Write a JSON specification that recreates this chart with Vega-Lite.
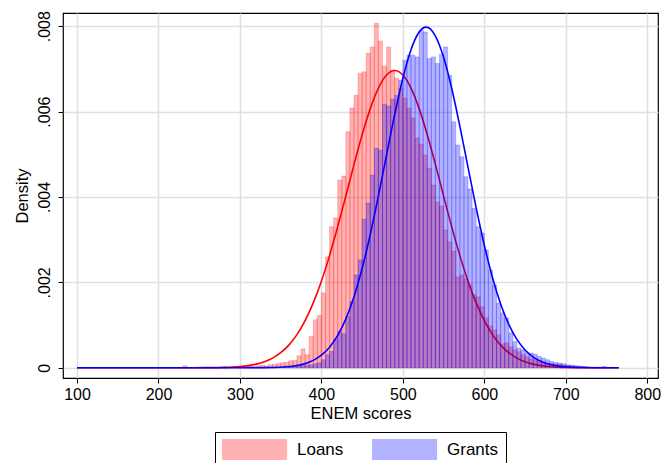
{
  "$schema": "https://vega.github.io/schema/vega-lite/v6.json",
  "autosize": {"type": "none"},
  "padding": {"left": 63, "top": 13, "right": 5, "bottom": 85},
  "width": 595,
  "height": 365,
  "background": "white",
  "config": {
    "view": {"stroke": "#000", "strokeWidth": 1.2},
    "font": "Liberation Sans"
  },
  "datasets": {
    "hist": [
      {"g":"Loans","x0":230,"x1":235,"d":0.0000468},
      {"g":"Loans","x0":280,"x1":285,"d":0.0000234},
      {"g":"Loans","x0":300,"x1":305,"d":0.0000234},
      {"g":"Loans","x0":305,"x1":310,"d":0.0000234},
      {"g":"Loans","x0":310,"x1":315,"d":0.0000351},
      {"g":"Loans","x0":315,"x1":320,"d":0.0000234},
      {"g":"Loans","x0":320,"x1":325,"d":0.0000468},
      {"g":"Loans","x0":325,"x1":330,"d":0.0000585},
      {"g":"Loans","x0":330,"x1":335,"d":0.0000468},
      {"g":"Loans","x0":335,"x1":340,"d":0.0000702},
      {"g":"Loans","x0":340,"x1":345,"d":0.0000819},
      {"g":"Loans","x0":345,"x1":350,"d":0.0000936},
      {"g":"Loans","x0":350,"x1":355,"d":0.000117},
      {"g":"Loans","x0":355,"x1":360,"d":0.000129},
      {"g":"Loans","x0":360,"x1":365,"d":0.000164},
      {"g":"Loans","x0":365,"x1":370,"d":0.000171},
      {"g":"Loans","x0":370,"x1":375,"d":0.000281},
      {"g":"Loans","x0":375,"x1":380,"d":0.000444},
      {"g":"Loans","x0":380,"x1":385,"d":0.000304},
      {"g":"Loans","x0":385,"x1":390,"d":0.000732},
      {"g":"Loans","x0":390,"x1":395,"d":0.001123},
      {"g":"Loans","x0":395,"x1":400,"d":0.001223},
      {"g":"Loans","x0":400,"x1":405,"d":0.001754},
      {"g":"Loans","x0":405,"x1":410,"d":0.002597},
      {"g":"Loans","x0":410,"x1":415,"d":0.003305},
      {"g":"Loans","x0":415,"x1":420,"d":0.003509},
      {"g":"Loans","x0":420,"x1":425,"d":0.004398},
      {"g":"Loans","x0":425,"x1":430,"d":0.004491},
      {"g":"Loans","x0":430,"x1":435,"d":0.005527},
      {"g":"Loans","x0":435,"x1":440,"d":0.006082},
      {"g":"Loans","x0":440,"x1":445,"d":0.006386},
      {"g":"Loans","x0":445,"x1":450,"d":0.006901},
      {"g":"Loans","x0":450,"x1":455,"d":0.006931},
      {"g":"Loans","x0":455,"x1":460,"d":0.007368},
      {"g":"Loans","x0":460,"x1":465,"d":0.007516},
      {"g":"Loans","x0":465,"x1":470,"d":0.008070},
      {"g":"Loans","x0":470,"x1":475,"d":0.007656},
      {"g":"Loans","x0":475,"x1":480,"d":0.007064},
      {"g":"Loans","x0":480,"x1":485,"d":0.007516},
      {"g":"Loans","x0":485,"x1":490,"d":0.006971},
      {"g":"Loans","x0":490,"x1":495,"d":0.006784},
      {"g":"Loans","x0":495,"x1":500,"d":0.006550},
      {"g":"Loans","x0":500,"x1":505,"d":0.006316},
      {"g":"Loans","x0":505,"x1":510,"d":0.006082},
      {"g":"Loans","x0":510,"x1":515,"d":0.005848},
      {"g":"Loans","x0":515,"x1":520,"d":0.005380},
      {"g":"Loans","x0":520,"x1":525,"d":0.005240},
      {"g":"Loans","x0":525,"x1":530,"d":0.004982},
      {"g":"Loans","x0":530,"x1":535,"d":0.004678},
      {"g":"Loans","x0":535,"x1":540,"d":0.004281},
      {"g":"Loans","x0":540,"x1":545,"d":0.003883},
      {"g":"Loans","x0":545,"x1":550,"d":0.003790},
      {"g":"Loans","x0":550,"x1":555,"d":0.003228},
      {"g":"Loans","x0":555,"x1":560,"d":0.002947},
      {"g":"Loans","x0":560,"x1":565,"d":0.002737},
      {"g":"Loans","x0":565,"x1":570,"d":0.002129},
      {"g":"Loans","x0":570,"x1":575,"d":0.002175},
      {"g":"Loans","x0":575,"x1":580,"d":0.002082},
      {"g":"Loans","x0":580,"x1":585,"d":0.001942},
      {"g":"Loans","x0":585,"x1":590,"d":0.001708},
      {"g":"Loans","x0":590,"x1":595,"d":0.001661},
      {"g":"Loans","x0":595,"x1":600,"d":0.001427},
      {"g":"Loans","x0":600,"x1":605,"d":0.001170},
      {"g":"Loans","x0":605,"x1":610,"d":0.000982},
      {"g":"Loans","x0":610,"x1":615,"d":0.000889},
      {"g":"Loans","x0":615,"x1":620,"d":0.000772},
      {"g":"Loans","x0":620,"x1":625,"d":0.000561},
      {"g":"Loans","x0":625,"x1":630,"d":0.000585},
      {"g":"Loans","x0":630,"x1":635,"d":0.000491},
      {"g":"Loans","x0":635,"x1":640,"d":0.000421},
      {"g":"Loans","x0":640,"x1":645,"d":0.000374},
      {"g":"Loans","x0":645,"x1":650,"d":0.000304},
      {"g":"Loans","x0":650,"x1":655,"d":0.000257},
      {"g":"Loans","x0":655,"x1":660,"d":0.000211},
      {"g":"Loans","x0":660,"x1":665,"d":0.000187},
      {"g":"Loans","x0":665,"x1":670,"d":0.000152},
      {"g":"Loans","x0":670,"x1":675,"d":0.000129},
      {"g":"Loans","x0":675,"x1":680,"d":0.000105},
      {"g":"Loans","x0":680,"x1":685,"d":0.0000936},
      {"g":"Loans","x0":685,"x1":690,"d":0.0000819},
      {"g":"Loans","x0":690,"x1":695,"d":0.0000819},
      {"g":"Loans","x0":695,"x1":700,"d":0.0000585},
      {"g":"Loans","x0":700,"x1":705,"d":0.0000468},
      {"g":"Loans","x0":705,"x1":710,"d":0.0000468},
      {"g":"Loans","x0":710,"x1":715,"d":0.0000351},
      {"g":"Loans","x0":715,"x1":720,"d":0.0000234},
      {"g":"Loans","x0":720,"x1":725,"d":0.0000234},
      {"g":"Loans","x0":725,"x1":730,"d":0.0000117},
      {"g":"Loans","x0":735,"x1":740,"d":0.0000117},
      {"g":"Loans","x0":745,"x1":750,"d":0.0000351},
      {"g":"Loans","x0":755,"x1":760,"d":0.000007},
      {"g":"Grants","x0":340,"x1":345,"d":0.0000117},
      {"g":"Grants","x0":345,"x1":350,"d":0.0000117},
      {"g":"Grants","x0":350,"x1":355,"d":0.0000117},
      {"g":"Grants","x0":355,"x1":360,"d":0.0000234},
      {"g":"Grants","x0":360,"x1":365,"d":0.0000234},
      {"g":"Grants","x0":365,"x1":370,"d":0.0000351},
      {"g":"Grants","x0":370,"x1":375,"d":0.0000468},
      {"g":"Grants","x0":375,"x1":380,"d":0.0000468},
      {"g":"Grants","x0":380,"x1":385,"d":0.0000585},
      {"g":"Grants","x0":385,"x1":390,"d":0.0000702},
      {"g":"Grants","x0":390,"x1":395,"d":0.0000936},
      {"g":"Grants","x0":395,"x1":400,"d":0.000117},
      {"g":"Grants","x0":400,"x1":405,"d":0.000187},
      {"g":"Grants","x0":405,"x1":410,"d":0.000304},
      {"g":"Grants","x0":410,"x1":415,"d":0.000381},
      {"g":"Grants","x0":415,"x1":420,"d":0.000671},
      {"g":"Grants","x0":420,"x1":425,"d":0.000849},
      {"g":"Grants","x0":425,"x1":430,"d":0.000795},
      {"g":"Grants","x0":430,"x1":435,"d":0.001200},
      {"g":"Grants","x0":435,"x1":440,"d":0.001551},
      {"g":"Grants","x0":440,"x1":445,"d":0.002175},
      {"g":"Grants","x0":445,"x1":450,"d":0.002526},
      {"g":"Grants","x0":450,"x1":455,"d":0.003478},
      {"g":"Grants","x0":455,"x1":460,"d":0.003860},
      {"g":"Grants","x0":460,"x1":465,"d":0.004515},
      {"g":"Grants","x0":465,"x1":470,"d":0.005146},
      {"g":"Grants","x0":470,"x1":475,"d":0.005099},
      {"g":"Grants","x0":475,"x1":480,"d":0.006175},
      {"g":"Grants","x0":480,"x1":485,"d":0.006129},
      {"g":"Grants","x0":485,"x1":490,"d":0.006292},
      {"g":"Grants","x0":490,"x1":495,"d":0.006386},
      {"g":"Grants","x0":495,"x1":500,"d":0.006737},
      {"g":"Grants","x0":500,"x1":505,"d":0.007205},
      {"g":"Grants","x0":505,"x1":510,"d":0.007322},
      {"g":"Grants","x0":510,"x1":515,"d":0.007322},
      {"g":"Grants","x0":515,"x1":520,"d":0.007282},
      {"g":"Grants","x0":520,"x1":525,"d":0.007906},
      {"g":"Grants","x0":525,"x1":530,"d":0.007867},
      {"g":"Grants","x0":530,"x1":535,"d":0.007244},
      {"g":"Grants","x0":535,"x1":540,"d":0.007282},
      {"g":"Grants","x0":540,"x1":545,"d":0.007128},
      {"g":"Grants","x0":545,"x1":550,"d":0.007338},
      {"g":"Grants","x0":550,"x1":555,"d":0.007516},
      {"g":"Grants","x0":555,"x1":560,"d":0.006854},
      {"g":"Grants","x0":560,"x1":565,"d":0.005761},
      {"g":"Grants","x0":565,"x1":570,"d":0.005216},
      {"g":"Grants","x0":570,"x1":575,"d":0.004943},
      {"g":"Grants","x0":575,"x1":580,"d":0.004475},
      {"g":"Grants","x0":580,"x1":585,"d":0.004187},
      {"g":"Grants","x0":585,"x1":590,"d":0.003736},
      {"g":"Grants","x0":590,"x1":595,"d":0.003305},
      {"g":"Grants","x0":595,"x1":600,"d":0.003158},
      {"g":"Grants","x0":600,"x1":605,"d":0.002760},
      {"g":"Grants","x0":605,"x1":610,"d":0.002292},
      {"g":"Grants","x0":610,"x1":615,"d":0.001942},
      {"g":"Grants","x0":615,"x1":620,"d":0.001513},
      {"g":"Grants","x0":620,"x1":625,"d":0.001287},
      {"g":"Grants","x0":625,"x1":630,"d":0.001163},
      {"g":"Grants","x0":630,"x1":635,"d":0.000819},
      {"g":"Grants","x0":635,"x1":640,"d":0.000615},
      {"g":"Grants","x0":640,"x1":645,"d":0.000461},
      {"g":"Grants","x0":645,"x1":650,"d":0.000421},
      {"g":"Grants","x0":650,"x1":655,"d":0.000351},
      {"g":"Grants","x0":655,"x1":660,"d":0.000344},
      {"g":"Grants","x0":660,"x1":665,"d":0.000320},
      {"g":"Grants","x0":665,"x1":670,"d":0.000264},
      {"g":"Grants","x0":670,"x1":675,"d":0.000227},
      {"g":"Grants","x0":675,"x1":680,"d":0.000187},
      {"g":"Grants","x0":680,"x1":685,"d":0.000147},
      {"g":"Grants","x0":685,"x1":690,"d":0.000124},
      {"g":"Grants","x0":690,"x1":695,"d":0.000110},
      {"g":"Grants","x0":695,"x1":700,"d":0.0000936},
      {"g":"Grants","x0":700,"x1":705,"d":0.0000702},
      {"g":"Grants","x0":705,"x1":710,"d":0.0000585},
      {"g":"Grants","x0":710,"x1":715,"d":0.0000468},
      {"g":"Grants","x0":715,"x1":720,"d":0.0000351},
      {"g":"Grants","x0":720,"x1":725,"d":0.0000234},
      {"g":"Grants","x0":725,"x1":730,"d":0.0000164},
      {"g":"Grants","x0":730,"x1":735,"d":0.0000117},
      {"g":"Grants","x0":735,"x1":740,"d":0.0000117},
      {"g":"Grants","x0":740,"x1":745,"d":0.0000187},
      {"g":"Grants","x0":745,"x1":750,"d":0.0000117},
      {"g":"Grants","x0":750,"x1":755,"d":0.0000047},
      {"g":"Grants","x0":755,"x1":760,"d":0.0000117},
      {"g":"Grants","x0":760,"x1":765,"d":0.0000047}
    ],
    "curve": [
      {"g":"Loans","x":100,"d":0},
      {"g":"Loans","x":200,"d":0},
      {"g":"Loans","x":240,"d":0.0000003},
      {"g":"Loans","x":260,"d":0.0000022},
      {"g":"Loans","x":280,"d":0.0000084},
      {"g":"Loans","x":290,"d":0.0000157},
      {"g":"Loans","x":300,"d":0.0000285},
      {"g":"Loans","x":310,"d":0.0000501},
      {"g":"Loans","x":320,"d":0.0000854},
      {"g":"Loans","x":330,"d":0.0001411},
      {"g":"Loans","x":340,"d":0.0002263},
      {"g":"Loans","x":350,"d":0.0003519},
      {"g":"Loans","x":360,"d":0.0005308},
      {"g":"Loans","x":370,"d":0.0007768},
      {"g":"Loans","x":380,"d":0.0011027},
      {"g":"Loans","x":390,"d":0.001519},
      {"g":"Loans","x":400,"d":0.002028},
      {"g":"Loans","x":410,"d":0.002627},
      {"g":"Loans","x":420,"d":0.003301},
      {"g":"Loans","x":430,"d":0.004024},
      {"g":"Loans","x":440,"d":0.004758},
      {"g":"Loans","x":450,"d":0.005457},
      {"g":"Loans","x":460,"d":0.006070},
      {"g":"Loans","x":470,"d":0.006551},
      {"g":"Loans","x":480,"d":0.006857},
      {"g":"Loans","x":490,"d":0.006962},
      {"g":"Loans","x":500,"d":0.006857},
      {"g":"Loans","x":510,"d":0.006551},
      {"g":"Loans","x":520,"d":0.006070},
      {"g":"Loans","x":530,"d":0.005457},
      {"g":"Loans","x":540,"d":0.004758},
      {"g":"Loans","x":550,"d":0.004024},
      {"g":"Loans","x":560,"d":0.003301},
      {"g":"Loans","x":570,"d":0.002627},
      {"g":"Loans","x":580,"d":0.002028},
      {"g":"Loans","x":590,"d":0.001519},
      {"g":"Loans","x":600,"d":0.0011027},
      {"g":"Loans","x":610,"d":0.0007768},
      {"g":"Loans","x":620,"d":0.0005308},
      {"g":"Loans","x":630,"d":0.0003519},
      {"g":"Loans","x":640,"d":0.0002263},
      {"g":"Loans","x":650,"d":0.0001411},
      {"g":"Loans","x":660,"d":0.0000854},
      {"g":"Loans","x":670,"d":0.0000501},
      {"g":"Loans","x":680,"d":0.0000285},
      {"g":"Loans","x":690,"d":0.0000157},
      {"g":"Loans","x":700,"d":0.0000084},
      {"g":"Loans","x":720,"d":0.0000022},
      {"g":"Loans","x":740,"d":0.0000003},
      {"g":"Loans","x":765,"d":0},
      {"g":"Grants","x":100,"d":0},
      {"g":"Grants","x":250,"d":0},
      {"g":"Grants","x":300,"d":0.0000002},
      {"g":"Grants","x":330,"d":0.000003},
      {"g":"Grants","x":350,"d":0.0000136},
      {"g":"Grants","x":370,"d":0.0000524},
      {"g":"Grants","x":380,"d":0.0000969},
      {"g":"Grants","x":390,"d":0.0001721},
      {"g":"Grants","x":400,"d":0.0002936},
      {"g":"Grants","x":410,"d":0.0004812},
      {"g":"Grants","x":420,"d":0.0007575},
      {"g":"Grants","x":430,"d":0.001146},
      {"g":"Grants","x":440,"d":0.0016659},
      {"g":"Grants","x":450,"d":0.0023264},
      {"g":"Grants","x":460,"d":0.0031215},
      {"g":"Grants","x":470,"d":0.0040242},
      {"g":"Grants","x":480,"d":0.0049842},
      {"g":"Grants","x":490,"d":0.0059316},
      {"g":"Grants","x":500,"d":0.0067826},
      {"g":"Grants","x":510,"d":0.0074511},
      {"g":"Grants","x":520,"d":0.0078645},
      {"g":"Grants","x":528.5,"d":0.007979},
      {"g":"Grants","x":540,"d":0.0077707},
      {"g":"Grants","x":550,"d":0.0072745},
      {"g":"Grants","x":560,"d":0.0065428},
      {"g":"Grants","x":570,"d":0.0056539},
      {"g":"Grants","x":580,"d":0.0046944},
      {"g":"Grants","x":590,"d":0.0037448},
      {"g":"Grants","x":600,"d":0.00287},
      {"g":"Grants","x":610,"d":0.0021136},
      {"g":"Grants","x":620,"d":0.0014954},
      {"g":"Grants","x":630,"d":0.0010164},
      {"g":"Grants","x":640,"d":0.0006639},
      {"g":"Grants","x":650,"d":0.0004165},
      {"g":"Grants","x":660,"d":0.0002511},
      {"g":"Grants","x":670,"d":0.0001455},
      {"g":"Grants","x":680,"d":0.000081},
      {"g":"Grants","x":690,"d":0.0000433},
      {"g":"Grants","x":700,"d":0.0000222},
      {"g":"Grants","x":710,"d":0.000011},
      {"g":"Grants","x":720,"d":0.0000052},
      {"g":"Grants","x":740,"d":0.000001},
      {"g":"Grants","x":765,"d":0}
    ]
  },
  "encoding": {
    "x": {
      "type": "quantitative",
      "scale": {"domain": [82.8, 813.2], "nice": false, "zero": false},
      "axis": {
        "values": [100, 200, 300, 400, 500, 600, 700, 800],
        "title": "ENEM scores",
        "domain": false,
        "grid": true,
        "gridColor": "#E0E0E0",
        "gridWidth": 1.5,
        "tickColor": "#000",
        "tickSize": 5,
        "tickWidth": 1,
        "labelFont": "Liberation Sans",
        "labelFontSize": 16,
        "labelColor": "#000",
        "labelPadding": 3,
        "labelFlush": false,
        "titleFont": "Liberation Sans",
        "titleFontSize": 16.5,
        "titleFontWeight": "normal",
        "titleColor": "#000",
        "titlePadding": 3
      }
    },
    "y": {
      "type": "quantitative",
      "scale": {"domain": [-0.00024, 0.00831], "nice": false, "zero": false},
      "axis": {
        "values": [0, 0.002, 0.004, 0.006, 0.008],
        "labelExpr": "datum.value == 0 ? '0' : replace(format(datum.value, '.3f'), '0.', '.')",
        "title": "Density",
        "domain": false,
        "grid": true,
        "gridColor": "#E0E0E0",
        "gridWidth": 1.5,
        "tickColor": "#000",
        "tickSize": 5,
        "tickWidth": 1,
        "labelAngle": -90,
        "labelAlign": "center",
        "labelBaseline": "bottom",
        "labelFont": "Liberation Sans",
        "labelFontSize": 16,
        "labelColor": "#000",
        "labelPadding": 6,
        "labelFlush": false,
        "titleFont": "Liberation Sans",
        "titleFontSize": 16.5,
        "titleFontWeight": "normal",
        "titleColor": "#000",
        "titlePadding": 6
      }
    }
  },
  "layer": [
    {
      "data": {"name": "hist"},
      "transform": [{"filter": "datum.g == 'Loans'"}],
      "mark": {"type": "bar", "fillOpacity": 0.3, "stroke": "#FF0000", "strokeOpacity": 0.35, "strokeWidth": 0.6},
      "encoding": {
        "x": {"field": "x0", "type": "quantitative"},
        "x2": {"field": "x1"},
        "y": {"field": "d", "type": "quantitative"},
        "y2": {"datum": 0},
        "color": {
          "field": "g", "type": "nominal",
          "scale": {"domain": ["Loans", "Grants"], "range": ["#FF0000", "#0000FF"]},
          "legend": {
            "orient": "none", "legendX": 152, "legendY": 419,
            "direction": "horizontal", "title": null,
            "symbolType": "M-1,-1H5.2V1H-1Z", "symbolSize": 441,
            "symbolOpacity": 0.3, "symbolStrokeWidth": 0,
            "labelOffset": 54, "labelFont": "Liberation Sans", "labelFontSize": 17, "labelColor": "#000",
            "columnPadding": 28, "padding": 7,
            "strokeColor": "#000", "fillColor": "#fff"
          }
        }
      }
    },
    {
      "data": {"name": "curve"},
      "transform": [{"filter": "datum.g == 'Loans'"}],
      "mark": {"type": "line", "color": "#FF0000", "strokeWidth": 1.6, "interpolate": "monotone"},
      "encoding": {
        "x": {"field": "x", "type": "quantitative"},
        "y": {"field": "d", "type": "quantitative"}
      }
    },
    {
      "data": {"name": "hist"},
      "transform": [{"filter": "datum.g == 'Grants'"}],
      "mark": {"type": "bar", "fillOpacity": 0.3, "stroke": "#0000FF", "strokeOpacity": 0.35, "strokeWidth": 0.6},
      "encoding": {
        "x": {"field": "x0", "type": "quantitative"},
        "x2": {"field": "x1"},
        "y": {"field": "d", "type": "quantitative"},
        "y2": {"datum": 0},
        "color": {"field": "g", "type": "nominal"}
      }
    },
    {
      "data": {"name": "curve"},
      "transform": [{"filter": "datum.g == 'Grants'"}],
      "mark": {"type": "line", "color": "#0000FF", "strokeWidth": 1.6, "interpolate": "monotone"},
      "encoding": {
        "x": {"field": "x", "type": "quantitative"},
        "y": {"field": "d", "type": "quantitative"}
      }
    }
  ]
}
